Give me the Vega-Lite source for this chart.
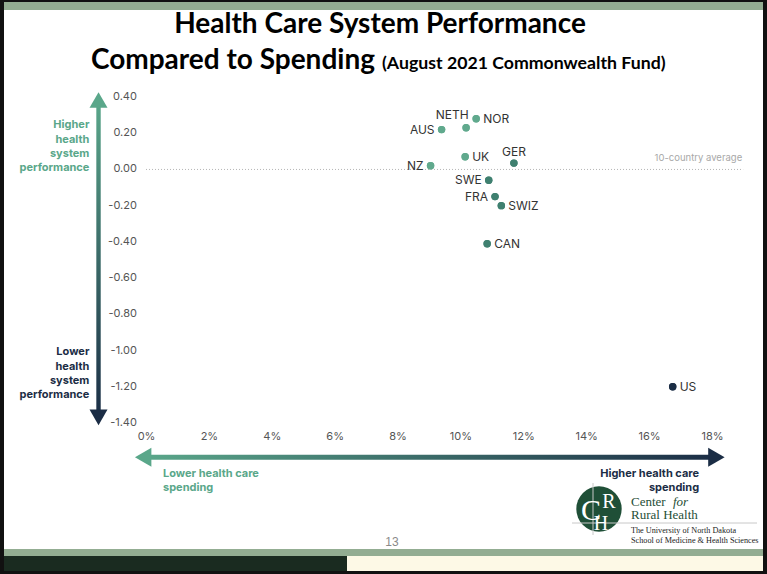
{
  "$schema": "https://vega.github.io/schema/vega-lite/v6.json",
  "width": 566,
  "height": 326,
  "autosize": {"type": "none"},
  "padding": {"left": 146, "top": 97, "right": 55, "bottom": 151},
  "background": "white",
  "config": {
    "view": {"stroke": null},
    "font": "Inter",
    "axis": {"domain": false, "ticks": false, "grid": false, "labelFontSize": 11, "labelColor": "#555555", "title": null, "labelFont": "Inter", "zindex": 2, "labelOverlap": false, "labelFlush": false, "labelBound": false}
  },
  "datasets": {
    "countries": [
      {"country": "NOR", "spending": 10.5, "performance": 0.28},
      {"country": "NETH", "spending": 10.18, "performance": 0.23},
      {"country": "AUS", "spending": 9.4, "performance": 0.22},
      {"country": "UK", "spending": 10.15, "performance": 0.07},
      {"country": "GER", "spending": 11.7, "performance": 0.035},
      {"country": "NZ", "spending": 9.05, "performance": 0.02},
      {"country": "SWE", "spending": 10.9, "performance": -0.06},
      {"country": "FRA", "spending": 11.1, "performance": -0.15},
      {"country": "SWIZ", "spending": 11.3, "performance": -0.2},
      {"country": "CAN", "spending": 10.85, "performance": -0.41},
      {"country": "US", "spending": 16.75, "performance": -1.2}
    ],
    "yticks": [
      {"tick": 0.4, "label": "0.40"},
      {"tick": 0.2, "label": "0.20"},
      {"tick": 0, "label": "0.00"},
      {"tick": -0.2, "label": "-0.20"},
      {"tick": -0.4, "label": "-0.40"},
      {"tick": -0.6, "label": "-0.60"},
      {"tick": -0.8, "label": "-0.80"},
      {"tick": -1.0, "label": "-1.00"},
      {"tick": -1.2, "label": "-1.20"},
      {"tick": -1.4, "label": "-1.40"}
    ]
  },
  "layer": [
    {
      "data": {"name": "countries"},
      "mark": {"type": "point", "filled": true, "size": 55, "opacity": 1},
      "encoding": {
        "x": {"field": "spending", "type": "quantitative", "scale": {"domain": [0, 18], "nice": false, "zero": false}, "axis": {"values": [0, 2, 4, 6, 8, 10, 12, 14, 16, 18], "labelExpr": "datum.value + '%'", "labelPadding": 7, "labelOverlap": false, "labelFlush": false, "labelBound": false}},
        "y": {"field": "performance", "type": "quantitative", "scale": {"domain": [-1.4, 0.4], "nice": false, "zero": false}, "axis": null},
        "color": {"field": "spending", "type": "quantitative", "scale": {"type": "threshold", "domain": [10.7, 14], "range": ["#60a98d", "#3f8070", "#1b2d45"]}, "legend": null}
      }
    },
    {
      "data": {"name": "yticks"},
      "mark": {"type": "text", "align": "right", "baseline": "middle", "fontSize": 11, "font": "Inter", "color": "#555555"},
      "encoding": {
        "x": {"datum": -0.29, "type": "quantitative"},
        "y": {"field": "tick", "type": "quantitative"},
        "text": {"field": "label"}
      }
    },
    {
      "data": {"values": [{}]},
      "mark": {"type": "rect", "fillOpacity": 0, "stroke": "#111111", "strokeWidth": 4},
      "encoding": {"x": {"value": -144}, "x2": {"value": 619}, "y": {"value": -95}, "y2": {"value": 475}}
    },
    {
      "data": {"values": [{}]},
      "mark": {"type": "rect", "fill": "#93ad92"},
      "encoding": {"x": {"value": -142}, "x2": {"value": 617}, "y": {"value": -95}, "y2": {"value": -87}}
    },
    {
      "data": {"values": [{}]},
      "mark": {"type": "rect", "fill": "#93ad92"},
      "encoding": {"x": {"value": -142}, "x2": {"value": 617}, "y": {"value": 452}, "y2": {"value": 459}}
    },
    {
      "data": {"values": [{}]},
      "mark": {"type": "rect", "fill": "#1a2b20"},
      "encoding": {"x": {"value": -142}, "x2": {"value": 201}, "y": {"value": 459}, "y2": {"value": 474}}
    },
    {
      "data": {"values": [{}]},
      "mark": {"type": "rect", "fill": "#fdf9e6"},
      "encoding": {"x": {"value": 201}, "x2": {"value": 617}, "y": {"value": 459}, "y2": {"value": 474}}
    },
    {
      "data": {"values": [{}]},
      "mark": {"type": "text", "text": "Health Care System Performance", "font": "Lato", "fontWeight": "bold", "fontSize": 28, "align": "center", "baseline": "alphabetic", "color": "#000000"},
      "encoding": {"x": {"value": 234}, "y": {"value": -64}}
    },
    {
      "data": {"values": [{}]},
      "mark": {"type": "text", "text": "Compared to Spending", "font": "Lato", "fontWeight": "bold", "fontSize": 28, "align": "right", "baseline": "alphabetic", "color": "#000000"},
      "encoding": {"x": {"value": 229}, "y": {"value": -28}}
    },
    {
      "data": {"values": [{}]},
      "mark": {"type": "text", "text": "(August 2021 Commonwealth Fund)", "font": "Lato", "fontWeight": "bold", "fontSize": 17.7, "align": "left", "baseline": "alphabetic", "color": "#000000"},
      "encoding": {"x": {"value": 236}, "y": {"value": -28}}
    },
    {
      "data": {"values": [{}]},
      "mark": {"type": "text", "text": "13", "font": "Liberation Sans", "fontSize": 12, "align": "center", "baseline": "alphabetic", "color": "#8a8a8a"},
      "encoding": {"x": {"value": 246}, "y": {"value": 449}}
    },
    {
      "data": {"values": [{}]},
      "mark": {"type": "rect", "fill": {"gradient": "linear", "x1": 0, "y1": 0, "x2": 0, "y2": 1, "stops": [{"offset": 0, "color": "#5aa78a"}, {"offset": 1, "color": "#1b2d45"}]}},
      "encoding": {
        "x": {"datum": -1.58, "type": "quantitative"},
        "x2": {"datum": -1.44},
        "y": {"datum": 0.385, "type": "quantitative"},
        "y2": {"datum": -1.372}
      }
    },
    {
      "data": {"values": [{}]},
      "mark": {"type": "point", "shape": "triangle-up", "filled": true, "size": 324, "color": "#5aa78a", "opacity": 1},
      "encoding": {"x": {"datum": -1.51, "type": "quantitative"}, "y": {"datum": 0.383, "type": "quantitative"}}
    },
    {
      "data": {"values": [{}]},
      "mark": {"type": "point", "shape": "triangle-down", "filled": true, "size": 324, "color": "#1b2d45", "opacity": 1},
      "encoding": {"x": {"datum": -1.51, "type": "quantitative"}, "y": {"datum": -1.369, "type": "quantitative"}}
    },
    {
      "data": {"values": [{}]},
      "mark": {"type": "rect", "fill": {"gradient": "linear", "x1": 0, "y1": 0, "x2": 1, "y2": 0, "stops": [{"offset": 0, "color": "#5aa78a"}, {"offset": 1, "color": "#1b2d45"}]}},
      "encoding": {
        "x": {"datum": -0.1, "type": "quantitative"},
        "x2": {"datum": 18.15},
        "y": {"datum": -1.575, "type": "quantitative"},
        "y2": {"datum": -1.603}
      }
    },
    {
      "data": {"values": [{}]},
      "mark": {"type": "point", "shape": "triangle-left", "filled": true, "size": 361, "color": "#5aa78a", "opacity": 1},
      "encoding": {"x": {"datum": -0.09, "type": "quantitative"}, "y": {"datum": -1.589, "type": "quantitative"}}
    },
    {
      "data": {"values": [{}]},
      "mark": {"type": "point", "shape": "triangle-right", "filled": true, "size": 361, "color": "#1b2d45", "opacity": 1},
      "encoding": {"x": {"datum": 18.14, "type": "quantitative"}, "y": {"datum": -1.589, "type": "quantitative"}}
    },
    {
      "data": {"values": [{}]},
      "mark": {"type": "text", "text": ["Higher", "health", "system", "performance"], "align": "right", "baseline": "top", "lineHeight": 14.3, "fontWeight": "bold", "fontSize": 11, "color": "#5aa78a"},
      "encoding": {"x": {"datum": -1.8, "type": "quantitative"}, "y": {"datum": 0.276, "type": "quantitative"}}
    },
    {
      "data": {"values": [{}]},
      "mark": {"type": "text", "text": ["Lower", "health", "system", "performance"], "align": "right", "baseline": "top", "lineHeight": 14.3, "fontWeight": "bold", "fontSize": 11, "color": "#1b2d45"},
      "encoding": {"x": {"datum": -1.8, "type": "quantitative"}, "y": {"datum": -0.977, "type": "quantitative"}}
    },
    {
      "data": {"values": [{}]},
      "mark": {"type": "text", "text": ["Lower health care", "spending"], "align": "left", "baseline": "top", "lineHeight": 14, "fontWeight": "bold", "fontSize": 11, "color": "#5aa78a"},
      "encoding": {"x": {"datum": 0.54, "type": "quantitative"}, "y": {"datum": -1.647, "type": "quantitative"}}
    },
    {
      "data": {"values": [{}]},
      "mark": {"type": "text", "text": ["Higher health care", "spending"], "align": "right", "baseline": "top", "lineHeight": 14, "fontWeight": "bold", "fontSize": 11, "color": "#1b2d45"},
      "encoding": {"x": {"datum": 17.59, "type": "quantitative"}, "y": {"datum": -1.647, "type": "quantitative"}}
    },
    {
      "data": {"values": [{}]},
      "mark": {"type": "rule", "stroke": "#b5b5b5", "strokeDash": [1, 2], "strokeWidth": 1},
      "encoding": {"x": {"datum": 0, "type": "quantitative"}, "x2": {"datum": 18.99}, "y": {"datum": 0, "type": "quantitative"}}
    },
    {
      "data": {"values": [{}]},
      "mark": {"type": "text", "text": "10-country average", "align": "right", "baseline": "middle", "fontSize": 9.5, "color": "#a8a8a8"},
      "encoding": {"x": {"datum": 18.96, "type": "quantitative"}, "y": {"datum": 0.061, "type": "quantitative"}}
    },
    {
      "data": {"name": "countries"},
      "mark": {"type": "point", "filled": true, "size": 55, "opacity": 1},
      "encoding": {
        "x": {"field": "spending", "type": "quantitative"},
        "y": {"field": "performance", "type": "quantitative"},
        "color": {"field": "spending", "type": "quantitative", "scale": {"type": "threshold", "domain": [10.7, 14], "range": ["#60a98d", "#3f8070", "#1b2d45"]}, "legend": null}
      }
    },
    {
      "data": {"name": "countries"},
      "transform": [{"filter": {"field": "country", "oneOf": ["NOR", "UK", "SWIZ", "CAN", "US"]}}],
      "mark": {"type": "text", "align": "left", "baseline": "middle", "dx": 7, "fontSize": 12, "color": "#333333"},
      "encoding": {"x": {"field": "spending", "type": "quantitative"}, "y": {"field": "performance", "type": "quantitative"}, "text": {"field": "country"}}
    },
    {
      "data": {"name": "countries"},
      "transform": [{"filter": {"field": "country", "oneOf": ["AUS", "NZ", "SWE", "FRA"]}}],
      "mark": {"type": "text", "align": "right", "baseline": "middle", "dx": -7, "fontSize": 12, "color": "#333333"},
      "encoding": {"x": {"field": "spending", "type": "quantitative"}, "y": {"field": "performance", "type": "quantitative"}, "text": {"field": "country"}}
    },
    {
      "data": {"name": "countries"},
      "transform": [{"filter": {"field": "country", "oneOf": ["NETH"]}}],
      "mark": {"type": "text", "align": "center", "baseline": "middle", "dx": -14, "dy": -13, "fontSize": 12, "color": "#333333"},
      "encoding": {"x": {"field": "spending", "type": "quantitative"}, "y": {"field": "performance", "type": "quantitative"}, "text": {"field": "country"}}
    },
    {
      "data": {"name": "countries"},
      "transform": [{"filter": {"field": "country", "oneOf": ["GER"]}}],
      "mark": {"type": "text", "align": "center", "baseline": "middle", "dx": 0, "dy": -11, "fontSize": 12, "color": "#333333"},
      "encoding": {"x": {"field": "spending", "type": "quantitative"}, "y": {"field": "performance", "type": "quantitative"}, "text": {"field": "country"}}
    },
    {
      "data": {"values": [{}]},
      "mark": {"type": "point", "shape": "circle", "filled": true, "size": 2060, "color": "#1f4f37", "opacity": 1},
      "encoding": {"x": {"value": 453}, "y": {"value": 412}}
    },
    {
      "data": {"values": [{}]},
      "mark": {"type": "rule", "stroke": "#c8c8c8", "strokeWidth": 1},
      "encoding": {"x": {"value": 447}, "y": {"value": 386}, "y2": {"value": 438}}
    },
    {
      "data": {"values": [{}]},
      "mark": {"type": "rule", "stroke": "#c8c8c8", "strokeWidth": 1},
      "encoding": {"x": {"value": 426}, "x2": {"value": 611}, "y": {"value": 426}}
    },
    {
      "data": {"values": [{}]},
      "mark": {"type": "text", "text": "C", "font": "Liberation Serif", "fontSize": 30, "align": "center", "baseline": "alphabetic", "color": "white"},
      "encoding": {"x": {"value": 445}, "y": {"value": 423}}
    },
    {
      "data": {"values": [{}]},
      "mark": {"type": "text", "text": "R", "font": "Liberation Serif", "fontSize": 20, "align": "center", "baseline": "alphabetic", "color": "white"},
      "encoding": {"x": {"value": 463}, "y": {"value": 411}}
    },
    {
      "data": {"values": [{}]},
      "mark": {"type": "text", "text": "H", "font": "Liberation Serif", "fontSize": 20, "align": "center", "baseline": "alphabetic", "color": "white"},
      "encoding": {"x": {"value": 455}, "y": {"value": 433}}
    },
    {
      "data": {"values": [{}]},
      "mark": {"type": "text", "text": "Center", "font": "Liberation Serif", "fontSize": 13, "align": "left", "baseline": "alphabetic", "color": "#1f4f37"},
      "encoding": {"x": {"value": 485}, "y": {"value": 409}}
    },
    {
      "data": {"values": [{}]},
      "mark": {"type": "text", "text": "for", "font": "Liberation Serif", "fontStyle": "italic", "fontSize": 13, "align": "left", "baseline": "alphabetic", "color": "#1f4f37"},
      "encoding": {"x": {"value": 527}, "y": {"value": 409}}
    },
    {
      "data": {"values": [{}]},
      "mark": {"type": "text", "text": "Rural Health", "font": "Liberation Serif", "fontSize": 13, "align": "left", "baseline": "alphabetic", "color": "#1f4f37"},
      "encoding": {"x": {"value": 485}, "y": {"value": 422}}
    },
    {
      "data": {"values": [{}]},
      "mark": {"type": "text", "text": ["The University of North Dakota", "School of Medicine & Health Sciences"], "font": "Liberation Serif", "fontSize": 8.2, "lineHeight": 9.6, "align": "left", "baseline": "alphabetic", "color": "#222222"},
      "encoding": {"x": {"value": 485}, "y": {"value": 436}}
    }
  ]
}
